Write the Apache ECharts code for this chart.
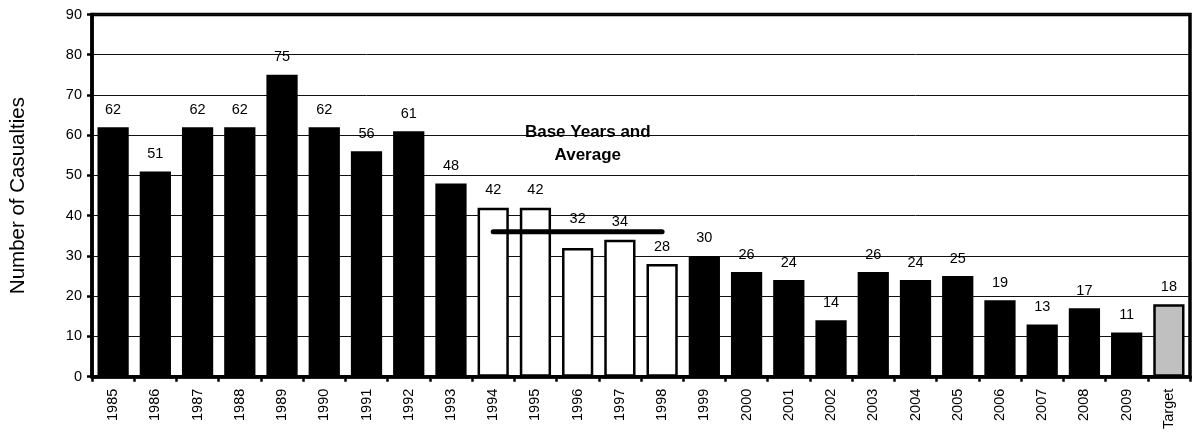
<!DOCTYPE html>
<html>
<head>
<meta charset="utf-8">
<style>
  html, body { margin: 0; padding: 0; background: #fff; }
  #chart { width: 1195px; height: 432px; }
</style>
<script src="https://cdn.jsdelivr.net/npm/echarts@6/dist/echarts.min.js"></script>
</head>
<body>
<div id="chart"></div>
<script>
// Casualties per year, base years, and the target
const categories = ['1985','1986','1987','1988','1989','1990','1991','1992','1993','1994','1995','1996','1997','1998','1999','2000','2001','2002','2003','2004','2005','2006','2007','2008','2009','Target'];
const casualties = [62, 51, 62, 62, 75, 62, 56, 61, 48, 42, 42, 32, 34, 28, 30, 26, 24, 14, 26, 24, 25, 19, 13, 17, 11, 18];
const baseYears = ['1994', '1995', '1996', '1997', '1998'];
const baseAverage = 36;
const yTicks = { min: 0, max: 90, interval: 10 };
const yAxisTitle = 'Number of Casualties';
const baseNote = 'Base Years and\nAverage';

const FONT = 'Liberation Sans, Arial, sans-serif';

const barData = casualties.map((v, i) => {
  const cat = categories[i];
  const item = { value: v };
  if (cat === 'Target') {
    item.itemStyle = { color: '#c0c0c0', borderColor: '#000', borderWidth: 2.5 };
  } else if (baseYears.includes(cat)) {
    item.itemStyle = { color: '#fff', borderColor: '#000', borderWidth: 2.5 };
  } else {
    item.itemStyle = { color: '#000' };
  }
  // lift the 1996 label clear of the average line
  if (cat === '1996') item.label = { distance: 21 };
  return item;
});

const avgLine = categories.map(c => baseYears.includes(c) ? baseAverage : null);

const chart = echarts.init(document.getElementById('chart'), null, { renderer: 'canvas' });

chart.setOption({
  animation: false,
  backgroundColor: '#fff',
  grid: {
    left: 88, right: 5, top: 14.5, bottom: 55,
    show: true, borderColor: '#000', borderWidth: 3.5, backgroundColor: 'transparent'
  },
  xAxis: {
    type: 'category',
    data: categories,
    axisLine: { lineStyle: { color: '#000', width: 3.5 } },
    axisTick: { show: true, alignWithLabel: false, length: 5, lineStyle: { color: '#000', width: 2.5 } },
    axisLabel: { rotate: 90, color: '#000', fontSize: 14.5, fontFamily: FONT, margin: 12, interval: 0 }
  },
  yAxis: {
    type: 'value',
    min: yTicks.min, max: yTicks.max, interval: yTicks.interval,
    name: yAxisTitle,
    nameLocation: 'middle',
    nameGap: 63,
    nameTextStyle: { color: '#000', fontSize: 20.5, fontFamily: FONT },
    axisLine: { show: true, lineStyle: { color: '#000', width: 3.5 } },
    axisTick: { show: true, length: 5, lineStyle: { color: '#000', width: 2.5 } },
    axisLabel: { color: '#000', fontSize: 14.5, fontFamily: FONT, margin: 10 },
    splitLine: { show: true, lineStyle: { color: '#111', width: 1 } }
  },
  series: [
    {
      type: 'bar',
      data: barData,
      barCategoryGap: '26%',
      label: { show: true, position: 'top', distance: 10, color: '#000', fontSize: 14.5, fontFamily: FONT },
      z: 2
    },
    {
      type: 'line',
      data: avgLine,
      symbol: 'none',
      lineStyle: { color: '#000', width: 5, cap: 'round' },
      z: 3
    }
  ]
});

// Note above the base-year bars, anchored to data coordinates
const p = chart.convertToPixel({ xAxisIndex: 0, yAxisIndex: 0 }, ['1996', 0]);
const q = chart.convertToPixel({ xAxisIndex: 0, yAxisIndex: 0 }, ['1997', 0]);
const y60 = chart.convertToPixel({ yAxisIndex: 0 }, 60);
chart.setOption({
  graphic: [{
    type: 'text',
    x: (p[0] + q[0]) / 2 - 11,
    y: y60 - 14,
    z: 10,
    style: {
      text: baseNote,
      font: 'bold 17px ' + FONT,
      fill: '#000',
      align: 'center',
      verticalAlign: 'top',
      lineHeight: 23
    }
  }]
});
</script>
</body>
</html>
